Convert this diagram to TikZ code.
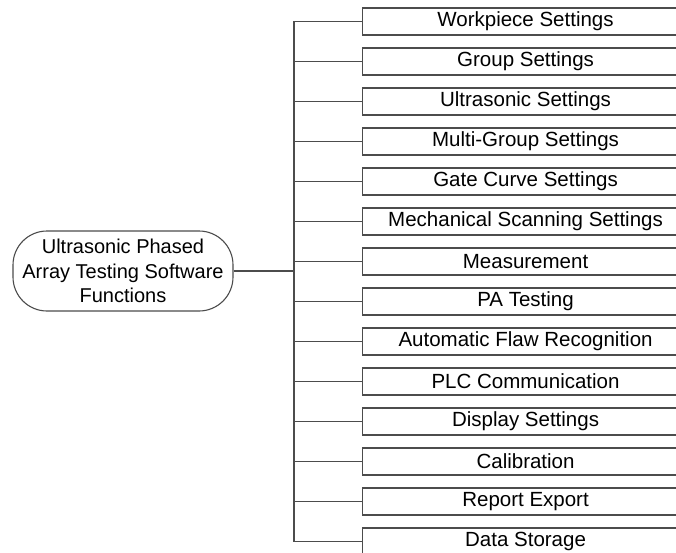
\documentclass[tikz,border=0pt]{standalone}
\usepackage{fontspec}
\setmainfont{Liberation Sans}
\begin{document}
\begin{tikzpicture}[x=1pt,y=-1pt,
  conn/.style={draw=black!70, line width=1.1pt},
  itembox/.style={conn, rectangle, minimum width=326pt, minimum height=27pt, inner sep=0pt, anchor=west, font=\fontsize{20.5}{24}\selectfont},
  rootbox/.style={conn, rectangle, rounded corners=34pt, minimum width=220pt, minimum height=80pt, inner sep=0pt, align=center, font=\fontsize{20}{24.5}\selectfont}]
\clip (0,0) rectangle (676,553);
\useasboundingbox (0,0) rectangle (676,553);
\node[rootbox] (root) at (123,271) {Ultrasonic Phased\\Array Testing Software\\Functions};
\coordinate (tx) at (294,0);
\coordinate (ttop) at (294,21.5);
\coordinate (tbot) at (294,541.5);
\draw[conn] (ttop) -- (tbot);
\foreach \t [count=\i from 0] in {Workpiece Settings, Group Settings, Ultrasonic Settings, Multi-Group Settings, Gate Curve Settings, Mechanical Scanning Settings, Measurement, PA Testing, Automatic Flaw Recognition, PLC Communication, Display Settings, Calibration, Report Export, Data Storage} {
  \node[itembox] (b\i) at (362,21.5+40*\i) {\t};
  \draw[conn] (b\i.west) -- (b\i.west -| tx);
}
\draw[conn] (root.east) -- (root.east -| tx);
\end{tikzpicture}
\end{document}
